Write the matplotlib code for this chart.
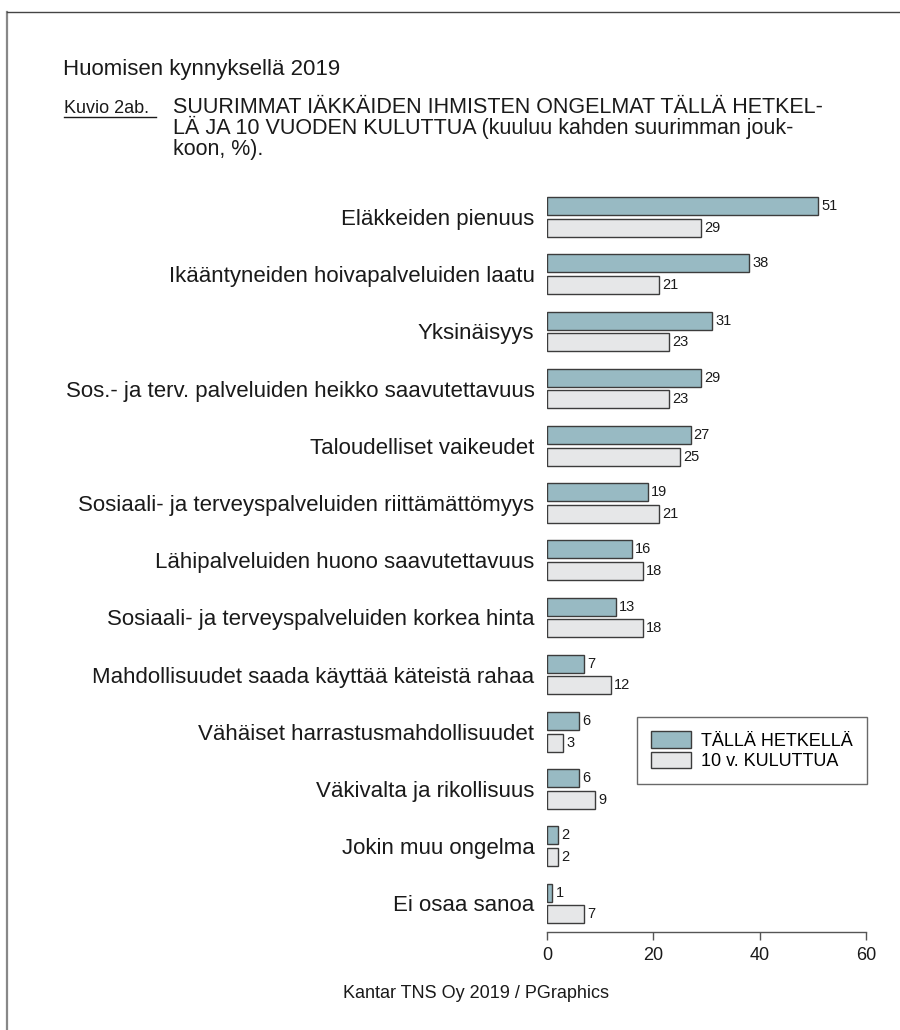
import matplotlib.pyplot as plt
import numpy as np
from matplotlib.patches import Patch
from matplotlib.lines import Line2D

# data
categories = [
    "Eläkkeiden pienuus",
    "Ikääntyneiden hoivapalveluiden laatu",
    "Yksinäisyys",
    "Sos.- ja terv. palveluiden heikko saavutettavuus",
    "Taloudelliset vaikeudet",
    "Sosiaali- ja terveyspalveluiden riittämättömyys",
    "Lähipalveluiden huono saavutettavuus",
    "Sosiaali- ja terveyspalveluiden korkea hinta",
    "Mahdollisuudet saada käyttää käteistä rahaa",
    "Vähäiset harrastusmahdollisuudet",
    "Väkivalta ja rikollisuus",
    "Jokin muu ongelma",
    "Ei osaa sanoa",
]
now_values = [51, 38, 31, 29, 27, 19, 16, 13, 7, 6, 6, 2, 1]
later_values = [29, 21, 23, 23, 25, 21, 18, 18, 12, 3, 9, 2, 7]
series_names = ["TÄLLÄ HETKELLÄ", "10 v. KULUTTUA"]
x_ticks = [0, 20, 40, 60]

TEAL = "#98bac3"
GREY = "#e6e7e8"
EDGE = "#3c3c3c"
TXT = "#1a1a1a"

plt.rcParams['font.family'] = ['Liberation Sans', 'DejaVu Sans']

W, H = 900, 1030


def fy(py):
    # pixel row -> figure fraction
    return 1 - py / H


fig = plt.figure(figsize=(9, 10.3), dpi=100)
ax = fig.add_axes([547 / W, fy(932), 319 / W, (932 - 188.4) / H])

y = np.arange(len(categories))
h = 0.315
off = 0.19
ax.barh(y - off, now_values, height=h, color=TEAL, edgecolor=EDGE, linewidth=1.0)
ax.barh(y + off, later_values, height=h, color=GREY, edgecolor=EDGE, linewidth=1.0)

for yi, v in zip(y, now_values):
    ax.text(v + 0.6, yi - off, str(v), va='center', ha='left', fontsize=10.5, color=TXT)
for yi, v in zip(y, later_values):
    ax.text(v + 0.6, yi + off, str(v), va='center', ha='left', fontsize=10.5, color=TXT)

ax.set_xlim(0, 60)
ax.set_ylim(len(categories) - 0.5, -0.5)
ax.set_xticks(x_ticks)
ax.set_yticks(y)
ax.set_yticklabels(categories, fontsize=16, color=TXT)
ax.tick_params(axis='y', length=0, pad=9)
ax.tick_params(axis='x', length=6, width=1, color='#555555', labelsize=13,
               labelcolor=TXT, direction='out', pad=5)
for s in ['top', 'right', 'left']:
    ax.spines[s].set_visible(False)
ax.spines['bottom'].set_color('#555555')
ax.spines['bottom'].set_linewidth(1)

# legend box
handles = [Patch(facecolor=TEAL, edgecolor=EDGE, label=series_names[0]),
           Patch(facecolor=GREY, edgecolor=EDGE, label=series_names[1])]
leg = fig.legend(handles=handles, loc='upper left', bbox_to_anchor=(637 / W, fy(717)),
                 fontsize=13, frameon=True, fancybox=False, borderpad=0.8,
                 handlelength=2.2, handleheight=1.0, handletextpad=0.55,
                 labelspacing=0.1, borderaxespad=0)
leg.get_frame().set_edgecolor('#444444')
leg.get_frame().set_linewidth(1)

# titles
fig.text(63 / W, fy(75), "Huomisen kynnyksellä 2019", fontsize=16,
         va='baseline', ha='left', color=TXT)
fig.text(64 / W, fy(113), "Kuvio 2ab.", fontsize=13,
         va='baseline', ha='left', color=TXT)
fig.add_artist(Line2D([64 / W, 156 / W], [fy(117), fy(117)], color=TXT, lw=1))
title_lines = ["SUURIMMAT IÄKKÄIDEN IHMISTEN ONGELMAT TÄLLÄ HETKEL-",
               "LÄ JA 10 VUODEN KULUTTUA (kuuluu kahden suurimman jouk-",
               "koon, %)."]
for i, line in enumerate(title_lines):
    fig.text(173 / W, fy(113 + i * 21), line, fontsize=15.5,
             va='baseline', ha='left', color=TXT)

fig.text(476 / W, fy(993), "Kantar TNS Oy 2019 / PGraphics", fontsize=13,
         va='center', ha='center', color=TXT)

# page frame (left and top edges)
fig.add_artist(Line2D([7 / W, 7 / W], [0, fy(12)], color='#888888', lw=1.6))
fig.add_artist(Line2D([7 / W, 1], [fy(12), fy(12)], color='#444444', lw=1))

fig.savefig("out.png", dpi=100)
